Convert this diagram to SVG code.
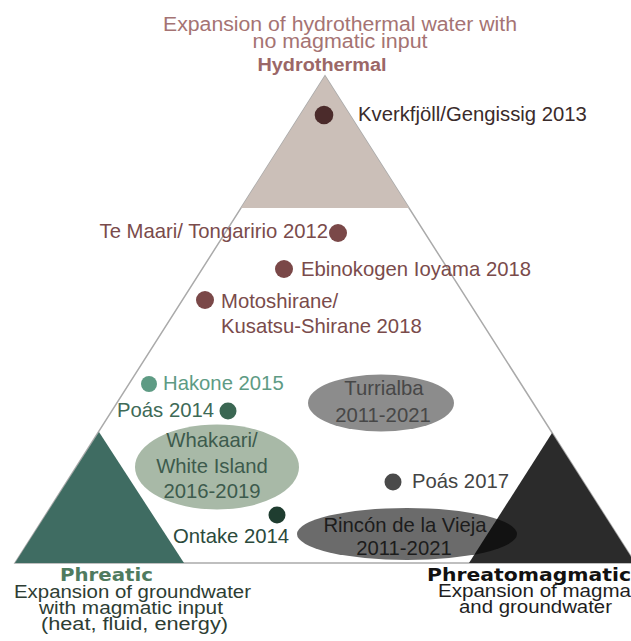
<svg xmlns="http://www.w3.org/2000/svg" width="631" height="641" viewBox="0 0 631 641">
<style>
text{font-family:"Liberation Sans",Arial,sans-serif;}
.lbl{font-size:20.3px;}
.desc{font-size:17.5px;}
.bold{font-family:"DejaVu Sans",Verdana,sans-serif;font-weight:bold;font-size:18.5px;}
.brown{fill:#7a4b4b;}
.mid{text-anchor:middle;}
</style>
<rect width="631" height="641" fill="#ffffff"/>
<g id="frame">
<polygon points="325,76 15,563 635,563" fill="#ffffff" stroke="#aaaaaa" stroke-width="1.5"/>
</g>
<g id="hydrothermal">
<polygon points="325,76 241,208 409,208" fill="#cbbfb8"/>
<text x="340" y="31" class="mid" fill="#a57373" textLength="354" lengthAdjust="spacingAndGlyphs" font-size="19.5px">Expansion of hydrothermal water with</text>
<text x="340" y="48" class="mid" fill="#a57373" textLength="175" lengthAdjust="spacingAndGlyphs" font-size="19.5px">no magmatic input</text>
<text x="322" y="71" class="mid" fill="#9b6767" font-weight="bold" font-size="18px" textLength="129" lengthAdjust="spacingAndGlyphs">Hydrothermal</text>
</g>
<g id="phreatic">
<polygon points="99,432 15,563 184,563" fill="#3f6c62"/>
<text x="60" y="581" class="bold" fill="#4f7b5f" textLength="93" lengthAdjust="spacingAndGlyphs">Phreatic</text>
<text x="14" y="598" class="desc" fill="#2d3d33" textLength="237" lengthAdjust="spacingAndGlyphs">Expansion of groundwater</text>
<text x="39" y="614" class="desc" fill="#2d3d33" textLength="184" lengthAdjust="spacingAndGlyphs">with magmatic input</text>
<text x="41" y="630" class="desc" fill="#2d3d33" textLength="187" lengthAdjust="spacingAndGlyphs">(heat, fluid, energy)</text>
</g>
<g id="phreatomagmatic">
<polygon points="552,433 469,563 635,563" fill="#2b2b2b"/>
<text x="427" y="581" class="bold" fill="#111111" textLength="204" lengthAdjust="spacingAndGlyphs">Phreatomagmatic</text>
<text x="438" y="597" class="desc" fill="#1e1e1e" textLength="193" lengthAdjust="spacingAndGlyphs">Expansion of magma</text>
<text x="459" y="613" class="desc" fill="#1e1e1e" textLength="153" lengthAdjust="spacingAndGlyphs">and groundwater</text>
</g>
<g id="kverkfjoll">
<circle cx="324" cy="115" r="9.3" fill="#4b2b2b"/>
<text x="358" y="121" class="lbl" fill="#3a2b2b">Kverkfjöll/Gengissig 2013</text>
</g>
<g id="temaari">
<circle cx="338" cy="233" r="9" fill="#7a4848"/>
<text x="328" y="238" class="lbl brown" text-anchor="end">Te Maari/ Tongaririo 2012</text>
</g>
<g id="ebinokogen">
<circle cx="284" cy="269" r="9" fill="#7a4848"/>
<text x="301" y="276" class="lbl brown">Ebinokogen Ioyama 2018</text>
</g>
<g id="motoshirane">
<circle cx="205" cy="300" r="9" fill="#7a4848"/>
<text x="221" y="308" class="lbl brown">Motoshirane/</text>
<text x="221" y="333" class="lbl brown">Kusatsu-Shirane 2018</text>
</g>
<g id="hakone">
<circle cx="149" cy="384" r="8" fill="#5e9b84"/>
<text x="163" y="390" class="lbl" fill="#5e9b84">Hakone 2015</text>
</g>
<g id="poas2014">
<circle cx="228" cy="411" r="8.5" fill="#3b6753"/>
<text x="214" y="417" class="lbl" fill="#3e6a57" text-anchor="end">Poás 2014</text>
</g>
<g id="turrialba">
<ellipse cx="381" cy="403" rx="73" ry="28.5" fill="#000000" fill-opacity="0.45"/>
<text x="384" y="395" class="lbl mid" fill="#474747">Turrialba</text>
<text x="383" y="422" class="lbl mid" fill="#474747">2011-2021</text>
</g>
<g id="whakaari">
<ellipse cx="217" cy="467" rx="82" ry="42.5" fill="#a8b9a7"/>
<text x="212" y="447" class="lbl mid" fill="#3d5b4d">Whakaari/</text>
<text x="212" y="473" class="lbl mid" fill="#3d5b4d">White Island</text>
<text x="212" y="498" class="lbl mid" fill="#3d5b4d">2016-2019</text>
</g>
<g id="poas2017">
<circle cx="393" cy="482" r="8.5" fill="#4a4a4a"/>
<text x="412" y="488" class="lbl" fill="#444444">Poás 2017</text>
</g>
<g id="ontake">
<circle cx="277" cy="515" r="8.5" fill="#1f3d30"/>
<text x="173" y="543" class="lbl" fill="#2b4a3c">Ontake 2014</text>
</g>
<g id="rincon">
<ellipse cx="407" cy="534" rx="110" ry="26" fill="#000000" fill-opacity="0.58"/>
<text x="405" y="532" class="lbl mid" fill="#1c1c1c">Rincón de la Vieja</text>
<text x="404" y="555" class="lbl mid" fill="#1c1c1c">2011-2021</text>
</g>
</svg>
